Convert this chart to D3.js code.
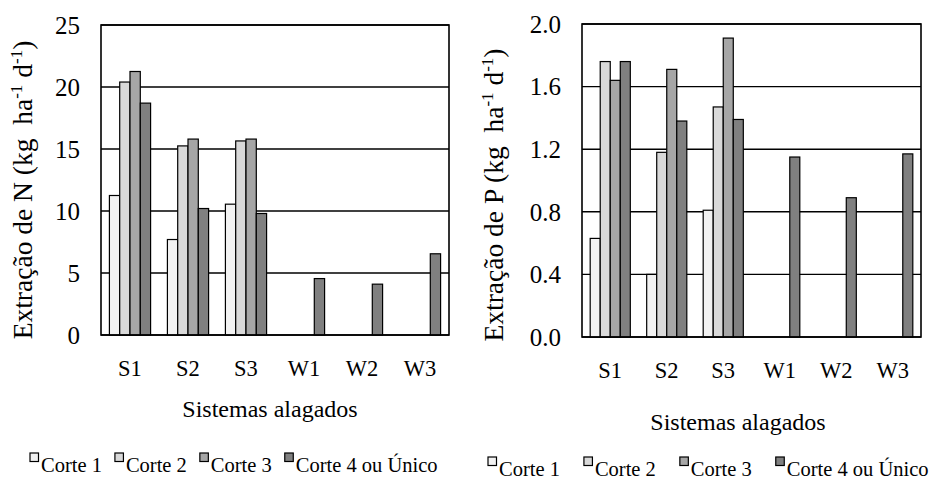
<!DOCTYPE html>
<html>
<head>
<meta charset="utf-8">
<script src="https://cdn.jsdelivr.net/npm/d3@7"></script>
<style>
  html, body { margin: 0; padding: 0; background: #fff; }
  svg text { font-family: "Liberation Serif", "Times New Roman", serif; fill: #000; }
</style>
</head>
<body>
<svg id="chart" width="931" height="481"></svg>
<script>
// categories
const systems = ["S1", "S2", "S3", "W1", "W2", "W3"];
const cortes = ["Corte 1", "Corte 2", "Corte 3", "Corte 4 ou Único"];

// N extraction (kg ha-1 d-1), null = no bar
const nCorte1 = [11.25, 7.7, 10.55, null, null, null];
const nCorte2 = [20.4, 15.25, 15.65, null, null, null];
const nCorte3 = [21.25, 15.8, 15.8, null, null, null];
const nCorte4 = [18.7, 10.2, 9.8, 4.55, 4.1, 6.55];

// P extraction (kg ha-1 d-1)
const pCorte1 = [0.63, 0.40, 0.81, null, null, null];
const pCorte2 = [1.76, 1.18, 1.47, null, null, null];
const pCorte3 = [1.64, 1.71, 1.91, null, null, null];
const pCorte4 = [1.76, 1.38, 1.39, 1.15, 0.89, 1.17];

// tick values
const nTicks = [0, 5, 10, 15, 20, 25];
const pTicks = [0, 0.4, 0.8, 1.2, 1.6, 2.0];

const colors = ["#f2f2f2", "#d9d9d9", "#a6a6a6", "#808080"];

const svg = d3.select("#chart");

function drawChart(o) {
  const series = o.series;
  const g = svg.append("g");

  const x0 = d3.scaleBand().domain(systems)
    .range([o.left, o.right]).paddingInner(0.29).paddingOuter(0.145);
  const x1 = d3.scaleBand().domain(d3.range(cortes.length))
    .range([0, x0.bandwidth()]);
  const y = d3.scaleLinear().domain([0, o.max]).range([o.bottom, o.top]);

  // gridlines
  g.append("g").selectAll("line")
    .data(o.ticks)
    .join("line")
    .attr("x1", o.left).attr("x2", o.right)
    .attr("y1", d => y(d)).attr("y2", d => y(d))
    .attr("stroke", "#000").attr("stroke-width", 1.4);

  // bars
  const rows = [];
  systems.forEach((s, i) => {
    series.forEach((arr, k) => {
      if (arr[i] != null) rows.push({ s, k, v: arr[i] });
    });
  });
  g.append("g").selectAll("rect")
    .data(rows)
    .join("rect")
    .attr("x", d => x0(d.s) + x1(d.k))
    .attr("y", d => y(d.v))
    .attr("width", x1.bandwidth())
    .attr("height", d => y(0) - y(d.v))
    .attr("fill", d => colors[d.k])
    .attr("stroke", "#000").attr("stroke-width", 1.2);

  // frame
  g.append("rect")
    .attr("x", o.left).attr("y", o.top)
    .attr("width", o.right - o.left).attr("height", o.bottom - o.top)
    .attr("fill", "none").attr("stroke", "#000").attr("stroke-width", 1.6);

  // y tick labels
  g.append("g").selectAll("text")
    .data(o.ticks)
    .join("text")
    .attr("x", o.left - 21)
    .attr("y", d => y(d))
    .attr("dy", "0.35em")
    .attr("text-anchor", "end")
    .attr("font-size", 25)
    .text(d => o.fmt(d));

  // x tick labels
  g.append("g").selectAll("text")
    .data(systems)
    .join("text")
    .attr("x", d => x0(d) + x0.bandwidth() / 2)
    .attr("y", o.xLabelY)
    .attr("text-anchor", "middle")
    .attr("font-size", 22.5)
    .text(d => d);

  // x axis title
  g.append("text")
    .attr("x", o.xTitleX).attr("y", o.xTitleY)
    .attr("text-anchor", "middle")
    .attr("font-size", 24)
    .text("Sistemas alagados");

  // y axis title
  const yt = g.append("text")
    .attr("transform", `translate(${o.yTitleX},${o.yTitleY}) rotate(-90)`)
    .attr("text-anchor", "middle")
    .attr("font-size", 27.5)
    .attr("xml:space", "preserve");
  yt.append("tspan").text(`Extração de ${o.el} (kg  ha`);
  yt.append("tspan").attr("font-size", 17).attr("dy", -10).text("-1");
  yt.append("tspan").attr("dy", 10).text(" d");
  yt.append("tspan").attr("font-size", 17).attr("dy", -10).text("-1");
  yt.append("tspan").attr("dy", 10).text(")");

  // legend
  let lx = o.legendX;
  cortes.forEach((c, k) => {
    g.append("rect")
      .attr("x", lx).attr("y", o.legendY - 19)
      .attr("width", 8.5).attr("height", 8.5)
      .attr("fill", colors[k])
      .attr("stroke", "#000").attr("stroke-width", 1.2);
    const t = g.append("text")
      .attr("x", lx + 11).attr("y", o.legendY)
      .attr("font-size", 20.5)
      .text(c);
    lx += 11 + t.node().getComputedTextLength() + o.legendGap;
  });
}

drawChart({
  series: [nCorte1, nCorte2, nCorte3, nCorte4],
  el: "N", max: 25, ticks: nTicks, fmt: d3.format("d"),
  left: 101, right: 449, top: 25, bottom: 335,
  xLabelY: 376, xTitleX: 270, xTitleY: 417,
  yTitleX: 32, yTitleY: 190,
  legendX: 30, legendY: 472, legendGap: 13
});

drawChart({
  series: [pCorte1, pCorte2, pCorte3, pCorte4],
  el: "P", max: 2.0, ticks: pTicks, fmt: d3.format(".1f"),
  left: 582, right: 921, top: 24, bottom: 337,
  xLabelY: 378, xTitleX: 738, xTitleY: 430,
  yTitleX: 503, yTitleY: 195,
  legendX: 488, legendY: 476, legendGap: 24
});
</script>
</body>
</html>
